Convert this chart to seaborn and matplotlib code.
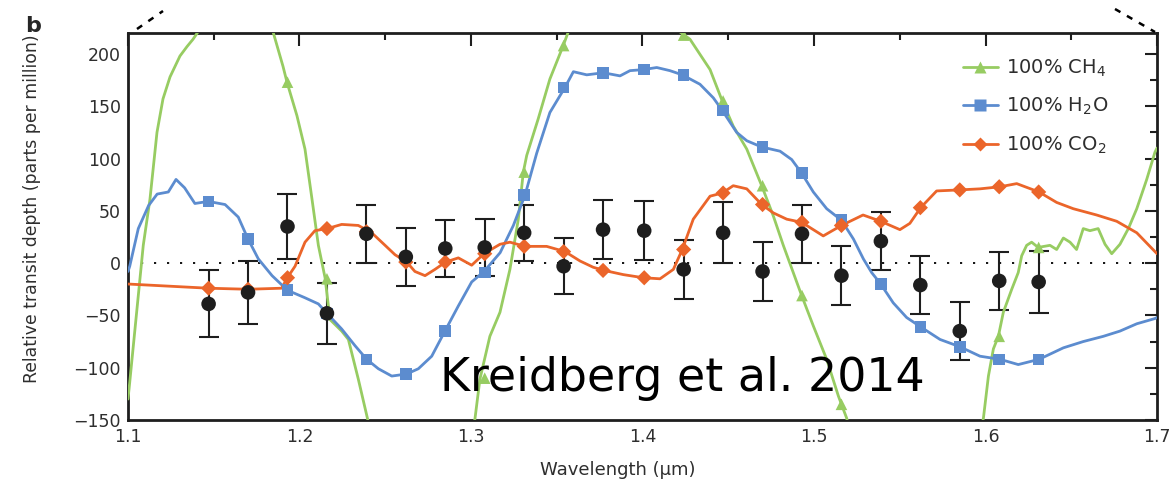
import numpy as np
import pandas as pd
import matplotlib
matplotlib.use("Agg")
import matplotlib.pyplot as plt
import seaborn as sns
from matplotlib.lines import Line2D
from matplotlib.ticker import MultipleLocator

# ---------------- data ----------------
bin_wl = [1.147, 1.170, 1.193, 1.216, 1.239, 1.262, 1.285, 1.308, 1.331, 1.354, 1.377,
          1.401, 1.424, 1.447, 1.470, 1.493, 1.516, 1.539, 1.562, 1.585, 1.608, 1.631]
obs_depth = [-39, -28, 35, -48, 28, 6, 14, 15, 29, -3, 32,
             31, -6, 29, -8, 28, -12, 21, -21, -65, -17, -18]
obs_err = [32, 30, 31, 29, 28, 28, 27, 27, 27, 27, 28,
           28, 28, 29, 28, 28, 28, 28, 28, 28, 28, 30]

h2o_bin = [59, 23, -26, -48, -92, -106, -65, -9, 65, 168, 182,
           185, 180, 146, 111, 86, 41, -20, -61, -80, -92, -92]
co2_bin = [-24, -25, -14, 33, 30, 1, 1, 9, 16, 11, -7,
           -14, 13, 67, 56, 39, 36, 40, 53, 70, 73, 68]
ch4_bin = [300, 300, 173, -15, -170, -250, -200, -110, 87, 208, 300,
           300, 218, 155, 74, -31, -135, -250, -250, -200, -70, 15]

h2o_wl = [1.100, 1.101, 1.106, 1.112, 1.117, 1.1235, 1.128, 1.133, 1.139, 1.1468, 1.1566,
          1.1643, 1.170, 1.176, 1.184, 1.193, 1.203, 1.211, 1.216, 1.2246, 1.2324, 1.2392,
          1.246, 1.2538, 1.2625, 1.2693, 1.2771, 1.2848, 1.2926, 1.3004, 1.3076, 1.317,
          1.3247, 1.3315, 1.3383, 1.346, 1.3548, 1.3597, 1.3675, 1.3772, 1.3869, 1.3927,
          1.4005, 1.4083, 1.416, 1.4232, 1.4335, 1.4413, 1.4465, 1.4549, 1.4608, 1.4695,
          1.4802, 1.487, 1.4928, 1.4996, 1.5074, 1.516, 1.523, 1.5288, 1.5336, 1.5389,
          1.5462, 1.554, 1.5622, 1.5735, 1.5851, 1.5968, 1.6085, 1.6191, 1.6312, 1.6454,
          1.657, 1.6687, 1.6784, 1.6882, 1.6988, 1.700]
h2o_val = [-8, -3, 33, 55, 66, 68, 80, 72, 57, 59, 56,
           44, 23, 4, -12, -26, -33, -39, -48, -63, -79, -92,
           -101, -108, -106, -101, -89, -65, -41, -18, -8, 10,
           36, 65, 105, 144, 168, 183, 180, 182, 179, 184,
           185, 187, 184, 180, 171, 158, 146, 125, 117, 111,
           107, 99, 86, 68, 52, 41, 23, 4, -9, -20,
           -38, -52, -61, -73, -80, -89, -92, -97, -92, -81,
           -75, -70, -65, -58, -53, -52]

co2_wl = [1.100, 1.1468, 1.170, 1.1896, 1.1929, 1.1974, 1.2032, 1.209, 1.2162, 1.2246,
          1.2343, 1.2421, 1.2499, 1.2557, 1.2625, 1.2673, 1.2732, 1.279, 1.2852, 1.2926,
          1.3004, 1.3076, 1.3169, 1.3227, 1.3315, 1.3441, 1.3548, 1.3636, 1.3713, 1.3776,
          1.3888, 1.4005, 1.4102, 1.418, 1.4232, 1.4296, 1.4394, 1.4465, 1.4529, 1.4608,
          1.4695, 1.4763, 1.4841, 1.4928, 1.5054, 1.516, 1.5286, 1.5389, 1.5501, 1.5559,
          1.5622, 1.5715, 1.5851, 1.5968, 1.6085, 1.6182, 1.6312, 1.6415, 1.6512, 1.6648,
          1.6765, 1.6882, 1.700]
co2_val = [-20, -24, -25, -24, -14, -3, 20, 31, 33, 37,
           36, 29, 17, 8, 1, -8, -12, -6, 1, 5,
           -2, 9, 18, 20, 16, 16, 11, 2, -4, -7,
           -11, -14, -15, -6, 13, 42, 64, 67, 74, 71,
           56, 48, 42, 39, 26, 36, 46, 40, 32, 38,
           53, 69, 70, 71, 73, 76, 68, 58, 52, 46,
           40, 29, 9]

ch4_wl = [1.100, 1.101, 1.1089, 1.1128, 1.1169, 1.1204, 1.1245, 1.1303, 1.1344, 1.1379,
          1.1408, 1.160, 1.175, 1.1846, 1.1904, 1.1927, 1.1985, 1.2032, 1.2073, 1.211,
          1.2149, 1.2178, 1.2246, 1.2285, 1.2343, 1.2397, 1.250, 1.290, 1.3023, 1.3052,
          1.311, 1.3169, 1.3227, 1.3276, 1.3305, 1.3325, 1.3392, 1.346, 1.3538, 1.3567,
          1.370, 1.410, 1.4219, 1.4277, 1.4394, 1.4465, 1.4529, 1.4608, 1.4695, 1.4763,
          1.4821, 1.4879, 1.4928, 1.4996, 1.5074, 1.5142, 1.516, 1.519, 1.530, 1.590,
          1.5988, 1.6017, 1.6046, 1.6075, 1.6104, 1.6153, 1.6191, 1.6211, 1.624, 1.6269,
          1.6307, 1.6376, 1.6415, 1.6454, 1.6493, 1.6531, 1.657, 1.6609, 1.6657, 1.6697,
          1.6736, 1.6784, 1.6833, 1.6882, 1.694, 1.6988, 1.700]
ch4_val = [-130, -114, 17, 61, 125, 157, 178, 198, 207, 214,
           221, 300, 300, 221, 188, 173, 141, 109, 61, 17,
           -14, -54, -65, -73, -111, -149, -220, -220, -149, -111,
           -70, -47, -6, 42, 87, 103, 138, 176, 208, 221,
           300, 300, 221, 214, 185, 155, 131, 109, 74, 45,
           17, -9, -31, -60, -92, -127, -135, -148, -220, -220,
           -148, -108, -82, -70, -47, -25, -9, 7, 17, 20,
           15, 17, 13, 24, 20, 13, 33, 31, 33, 18,
           9, 18, 33, 52, 80, 106, 110]

series_labels = ["100% CH$_4$", "100% H$_2$O", "100% CO$_2$"]
x_ticks = [1.1, 1.2, 1.3, 1.4, 1.5, 1.6, 1.7]
y_ticks = [-150, -100, -50, 0, 50, 100, 150, 200]

GREEN = "#97CC62"
BLUE = "#5C8CCF"
ORANGE = "#EB652A"
DARK = "#1e1e1e"
TXT = "#2e2e2e"

# ---------------- style ----------------
sns.set_style("white")
plt.rcParams["font.family"] = ["DejaVu Sans"]
plt.rcParams["mathtext.default"] = "regular"

fig = plt.figure(figsize=(11.76, 4.83), dpi=100)
ax = fig.add_axes([128 / 1176, 1 - 420 / 483, 1029 / 1176, 387 / 483])

# zero reference
ax.axhline(0, color="black", lw=1.3, ls=(0, (1.2, 6)), zorder=1)

# observation error bars (below models)
ax.errorbar(bin_wl, obs_depth, yerr=obs_err, fmt="none", ecolor=DARK,
            elinewidth=1.5, capsize=7.5, capthick=1.5, zorder=2)

# model spectra
for wl, val, col in [(ch4_wl, ch4_val, GREEN), (h2o_wl, h2o_val, BLUE), (co2_wl, co2_val, ORANGE)]:
    sns.lineplot(x=wl, y=val, ax=ax, color=col, lw=2.0, sort=False,
                 estimator=None, zorder=3)

for vals, col, mk, s in [(ch4_bin, GREEN, "^", 70), (h2o_bin, BLUE, "s", 70), (co2_bin, ORANGE, "D", 60)]:
    sns.scatterplot(x=bin_wl, y=vals, ax=ax, color=col, marker=mk, s=s,
                    edgecolor="none", linewidth=0, zorder=4)

# observed points on top
sns.scatterplot(x=bin_wl, y=obs_depth, ax=ax, color=DARK, s=110,
                edgecolor="none", linewidth=0, zorder=6)

ax.set_xlim(1.1, 1.7)
ax.set_ylim(-150, 220)
ax.set_xticks(x_ticks)
ax.set_xticklabels([f"{t:.1f}" for t in x_ticks])
ax.set_yticks(y_ticks)
ax.set_yticklabels([str(t).replace("-", "\u2212") for t in y_ticks])
ax.xaxis.set_minor_locator(MultipleLocator(0.05))
ax.yaxis.set_minor_locator(MultipleLocator(25))
ax.tick_params(which="both", direction="in", top=True, right=True,
               width=1.5, color=DARK, labelsize=12.5, labelcolor=TXT)
ax.tick_params(axis="y", pad=5)
ax.tick_params(axis="x", pad=6)
ax.tick_params(which="major", length=9)
ax.tick_params(which="minor", length=5)
for sp in ax.spines.values():
    sp.set_linewidth(2.0)
    sp.set_color(DARK)

ax.set_xlabel("Wavelength (\u00b5m)", fontsize=13, color=TXT)
ax.xaxis.set_label_coords(0.476, -0.106)
ax.set_ylabel("Relative transit depth (parts per million)", fontsize=12.4, color=TXT)
ax.yaxis.set_label_coords(-0.0933, 0.545)
ax.yaxis.label.set_va("center")

# legend
handles = [Line2D([], [], color=GREEN, lw=2, marker="^", ms=8, mec="none"),
           Line2D([], [], color=BLUE, lw=2, marker="s", ms=8, mec="none"),
           Line2D([], [], color=ORANGE, lw=2, marker="D", ms=7, mec="none")]
leg = ax.legend(handles, series_labels, loc="upper left", bbox_to_anchor=(0.811, 0.937),
                frameon=False, fontsize=14, handlelength=1.8, handletextpad=0.45,
                labelspacing=0.9, borderpad=0, borderaxespad=0)
for t in leg.get_texts():
    t.set_color(TXT)

# annotation
ax.text(1.2819, -122, "Kreidberg et al. 2014", fontsize=33, family="DejaVu Sans",
        color="black", ha="left", va="baseline", zorder=7)

# panel label and zoom connector lines
fig.text(33 / 1176, 1 - 26 / 483, "b", fontweight="bold", fontsize=16,
         ha="center", va="center")
fig.add_artist(Line2D([137 / 1176, 163 / 1176], [1 - 29 / 483, 1 - 11 / 483],
                      transform=fig.transFigure, color="black", lw=1.8, ls=(0, (2.5, 3))))
fig.add_artist(Line2D([1115 / 1176, 1155 / 1176], [1 - 9 / 483, 1 - 32 / 483],
                      transform=fig.transFigure, color="black", lw=1.8, ls=(0, (2.5, 3))))

fig.savefig("out.png", dpi=100)
